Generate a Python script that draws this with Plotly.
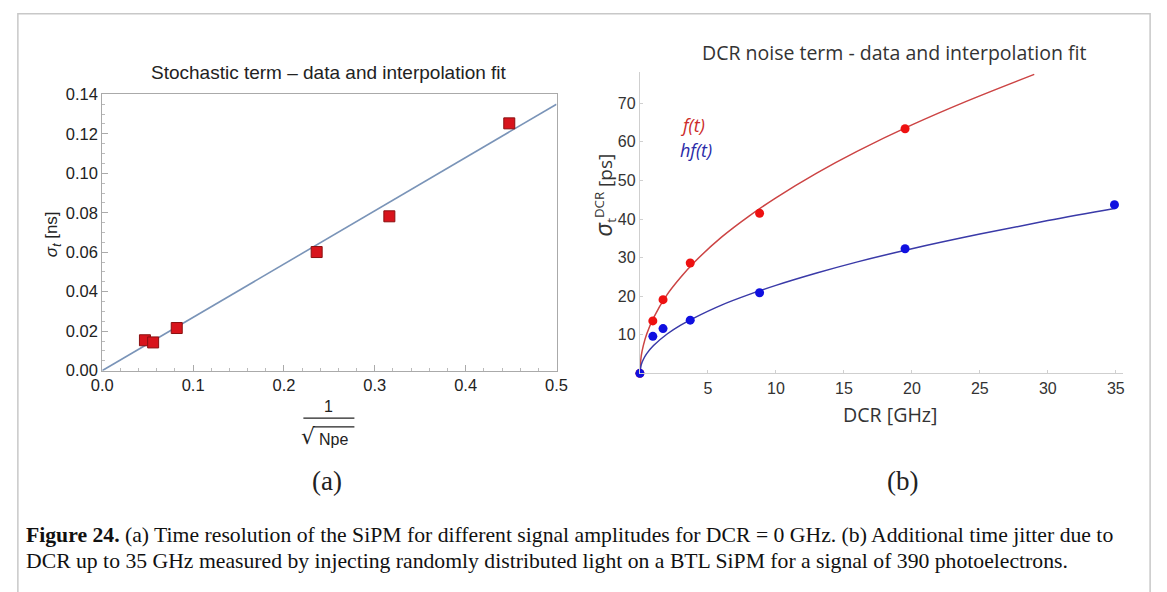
import plotly.graph_objects as go

# ---- data ----
# (a) stochastic term
inv_sqrt_npe = [0.047, 0.056, 0.082, 0.236, 0.316, 0.448]
sigma_t_ns = [0.0154, 0.0143, 0.0216, 0.0601, 0.0782, 0.1253]
fit_a_x = [0.0, 0.5]
fit_a_y = [0.0, 0.135]

# (b) DCR noise term
dcr_f = [0.0, 0.95, 1.7, 3.7, 8.8, 19.5]
f_t = [0.0, 13.6, 19.1, 28.6, 41.5, 63.4]
dcr_hf = [0.0, 0.95, 1.7, 3.7, 8.8, 19.5, 34.9]
hf_t = [0.0, 9.6, 11.6, 13.8, 20.9, 32.3, 43.7]

fit_f_x = [0, 0.1, 0.25, 0.5, 1, 2, 3, 4, 6, 8, 10, 13, 16, 20, 24, 29]
fit_f_y = [0, 4.6, 7.2, 10.2, 14.4, 20.4, 24.9, 28.8, 35.3, 40.7, 45.5, 51.9, 57.6, 64.4, 70.5, 77.5]
fit_hf_x = [0, 0.1, 0.25, 0.5, 1, 2, 3, 4, 6, 8, 10, 13, 16, 20, 25, 30, 35]
fit_hf_y = [0, 2.3, 3.6, 5.1, 7.2, 10.2, 12.5, 14.4, 17.7, 20.4, 22.8, 26.0, 28.9, 32.3, 36.1, 39.6, 42.8]

W, H = 1167, 592


# page pixels -> paper coordinates (margins are zero, so paper == page)
def px(x):
    return x / W


def py(y):
    return 1 - y / H


fig = go.Figure()

# --- panel (a) ---
fig.add_trace(go.Scatter(x=fit_a_x, y=fit_a_y, mode='lines',
                         line=dict(color='#7a94b8', width=1.6),
                         xaxis='x', yaxis='y', showlegend=False))
fig.add_trace(go.Scatter(x=inv_sqrt_npe, y=sigma_t_ns, mode='markers',
                         marker=dict(symbol='square', size=11, color='#d8141c',
                                     line=dict(color='#8a1010', width=1)),
                         xaxis='x', yaxis='y', showlegend=False, cliponaxis=False))

# --- panel (b) ---
fig.add_trace(go.Scatter(x=fit_f_x, y=fit_f_y, mode='lines', line_shape='spline',
                         line=dict(color='#cc4444', width=1.5),
                         xaxis='x2', yaxis='y2', showlegend=False))
fig.add_trace(go.Scatter(x=fit_hf_x, y=fit_hf_y, mode='lines', line_shape='spline',
                         line=dict(color='#3a3aa8', width=1.5),
                         xaxis='x2', yaxis='y2', showlegend=False))
fig.add_trace(go.Scatter(x=dcr_f, y=f_t, mode='markers',
                         marker=dict(size=9, color='#ee1111'),
                         xaxis='x2', yaxis='y2', showlegend=False, cliponaxis=False))
fig.add_trace(go.Scatter(x=dcr_hf, y=hf_t, mode='markers',
                         marker=dict(size=9, color='#1010e0'),
                         xaxis='x2', yaxis='y2', showlegend=False, cliponaxis=False))

tickfont_a = dict(family='Liberation Sans, Arial', size=16.5, color='#222')
tickfont_b = dict(family='Liberation Sans, Arial', size=16, color='#333')

fig.update_layout(
    width=W, height=H,
    margin=dict(l=0, r=0, t=0, b=0),
    paper_bgcolor='white', plot_bgcolor='white',
    xaxis=dict(domain=[px(93), px(556)], range=[0, 0.5], anchor='y',
               dtick=0.1, tickformat='.1f', showgrid=False, zeroline=False,
               showline=True, linecolor='#aaaaaa', linewidth=1, mirror=True,
               ticks='inside', ticklen=6, tickcolor='#aaaaaa',
               minor=dict(ticks='inside', ticklen=3, dtick=0.02, tickcolor='#bbbbbb'),
               tickfont=tickfont_a),
    yaxis=dict(domain=[py(373), py(88)], range=[0, 0.14], anchor='x',
               dtick=0.02, tickformat='.2f', showgrid=False, zeroline=False,
               showline=True, linecolor='#aaaaaa', linewidth=1, mirror=True,
               ticks='inside', ticklen=6, tickcolor='#aaaaaa',
               minor=dict(ticks='inside', ticklen=3, dtick=0.005, tickcolor='#bbbbbb'),
               tickfont=tickfont_a),
    xaxis2=dict(domain=[px(641), px(1133)], range=[0, 35.5], anchor='y2',
                tickvals=[5, 10, 15, 20, 25, 30, 35], showgrid=False, zeroline=False,
                showline=True, linecolor='#cfcfcf', linewidth=1.2,
                ticks='inside', ticklen=3, tickcolor='#d0d0d0',
                tickfont=tickfont_b),
    yaxis2=dict(domain=[py(375.8), py(65.4)], range=[0, 78], anchor='x2',
                tickvals=[10, 20, 30, 40, 50, 60, 70], showgrid=False, zeroline=False,
                showline=True, linecolor='#cfcfcf', linewidth=1.2,
                ticks='inside', ticklen=3, tickcolor='#d0d0d0',
                tickfont=tickfont_b),
)

serif = 'Liberation Serif, DejaVu Serif, serif'
ann = [
    # panel titles
    dict(x=px(324), y=py(65), text='Stochastic term \u2013 data and interpolation fit',
         font=dict(family='Liberation Sans, Arial', size=19, color='#222')),
    dict(x=px(900), y=py(45), text='DCR noise term - data and interpolation fit',
         font=dict(family='Open Sans', size=19.5, color='#333')),
    # axis titles (a)
    dict(x=px(43), y=py(232), text='<i>\u03c3<sub>t</sub></i> [ns]', textangle=-90,
         font=dict(family='Liberation Sans, Arial', size=17, color='#222')),
    dict(x=px(324), y=py(410), text='1',
         font=dict(family='Liberation Sans, Arial', size=16, color='#222')),
    dict(x=px(303), y=py(441), text='\u221a',
         font=dict(family='DejaVu Sans', size=22, color='#222')),
    dict(x=px(329), y=py(444), text='Npe',
         font=dict(family='Liberation Sans, Arial', size=16, color='#222')),
    # axis titles (b)
    dict(x=px(604), y=py(192),
         text='<span style="font-size:24px"><i>\u03c3</i></span><sub>t</sub><sup>DCR</sup> [ps]',
         textangle=-90, font=dict(family='Open Sans', size=19, color='#333')),
    dict(x=px(896), y=py(418), text='DCR [GHz]',
         font=dict(family='Open Sans', size=19.6, color='#333')),
    # curve labels
    dict(x=px(680), y=py(120), xanchor='left', text='<i>f(t)</i>',
         font=dict(family='Open Sans', size=18, color='#cc2a2a')),
    dict(x=px(680), y=py(145), xanchor='left', text='<i>hf(t)</i>',
         font=dict(family='Open Sans', size=18, color='#2a2aa8')),
    # panel tags
    dict(x=px(322), y=py(487), text='(a)', font=dict(family=serif, size=27, color='#222')),
    dict(x=px(909), y=py(487), text='(b)', font=dict(family=serif, size=27, color='#222')),
    # caption
    dict(x=px(13), y=py(542), xanchor='left',
         text='<b>Figure 24.</b> (a) Time resolution of the SiPM for different signal amplitudes '
              'for DCR = 0 GHz. (b) Additional time jitter due to',
         font=dict(family=serif, size=21.7, color='#111')),
    dict(x=px(13), y=py(569), xanchor='left',
         text='DCR up to 35 GHz measured by injecting randomly distributed light on a BTL SiPM '
              'for a signal of 390 photoelectrons.',
         font=dict(family=serif, size=21.7, color='#111')),
]
for a in ann:
    a.setdefault('xref', 'paper')
    a.setdefault('yref', 'paper')
    a.setdefault('showarrow', False)
    a.setdefault('xanchor', 'center')
    a.setdefault('yanchor', 'middle')
fig.update_layout(annotations=ann)

fig.update_layout(shapes=[
    # figure border
    dict(type='rect', xref='paper', yref='paper', x0=px(7), x1=px(1161), y0=-0.02, y1=py(5),
         line=dict(color='#c8c8c8', width=1.5), layer='below'),
    # fraction bar and radical overline
    dict(type='line', xref='paper', yref='paper', x0=px(298), x1=px(350), y0=py(422), y1=py(422),
         line=dict(color='#222', width=1.3)),
    dict(type='line', xref='paper', yref='paper', x0=px(308), x1=px(350), y0=py(431), y1=py(431),
         line=dict(color='#222', width=1.1)),
])

# page body has a default margin; drop it so the figure fills the window exactly
fig.write_html("out.html", config={'displayModeBar': False},
               post_script="document.body.style.margin='0';document.body.style.overflow='hidden';")
